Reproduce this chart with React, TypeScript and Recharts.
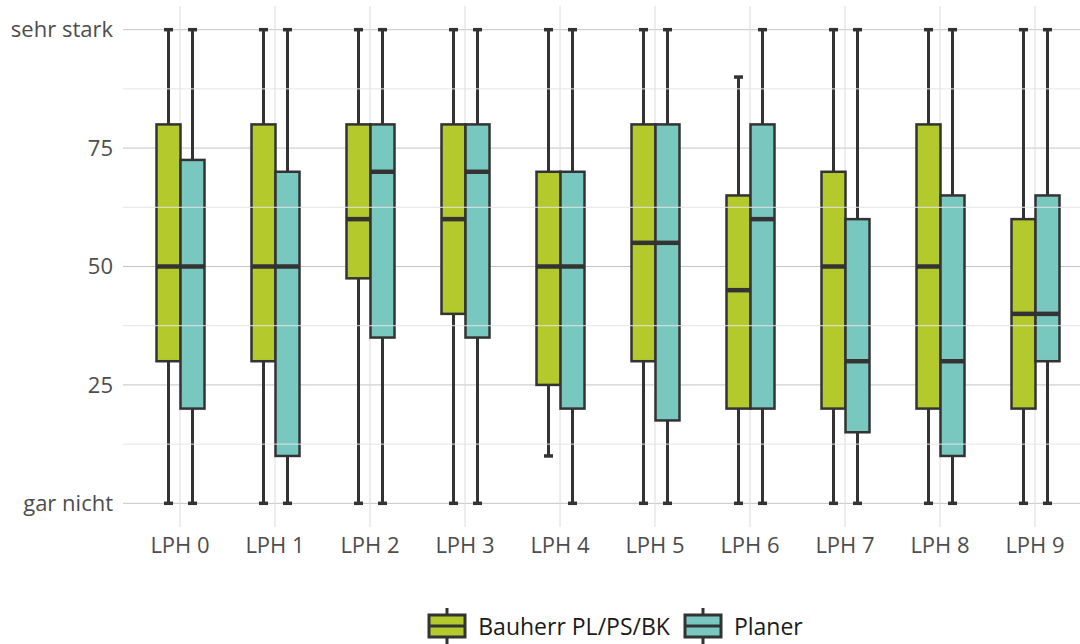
import React from 'react';
import {
  ComposedChart,
  Bar,
  XAxis,
  YAxis,
  CartesianGrid,
  ReferenceLine,
  Legend,
} from 'recharts';

const categories = ['LPH 0', 'LPH 1', 'LPH 2', 'LPH 3', 'LPH 4', 'LPH 5', 'LPH 6', 'LPH 7', 'LPH 8', 'LPH 9'];

const bauherrMin = [0, 0, 0, 0, 10, 0, 0, 0, 0, 0];
const bauherrQ1 = [30, 30, 47.5, 40, 25, 30, 20, 20, 20, 20];
const bauherrMed = [50, 50, 60, 60, 50, 55, 45, 50, 50, 40];
const bauherrQ3 = [80, 80, 80, 80, 70, 80, 65, 70, 80, 60];
const bauherrMax = [100, 100, 100, 100, 100, 100, 90, 100, 100, 100];

const planerMin = [0, 0, 0, 0, 0, 0, 0, 0, 0, 0];
const planerQ1 = [20, 10, 35, 35, 20, 17.5, 20, 15, 10, 30];
const planerMed = [50, 50, 70, 70, 50, 55, 60, 30, 30, 40];
const planerQ3 = [72.5, 70, 80, 80, 70, 80, 80, 60, 65, 65];
const planerMax = [100, 100, 100, 100, 100, 100, 100, 100, 100, 100];

const yTicks = [0, 25, 50, 75, 100];
const yMinor = [12.5, 37.5, 62.5, 87.5];
const yLabels: Record<number, string> = { 0: 'gar nicht', 100: 'sehr stark' };

const GREEN = '#b3c92c';
const TEAL = '#79c8c0';
const INK = '#333333';
const TEXT = '#4d4d4d';

const data = categories.map((name, i) => ({
  name,
  b: { min: bauherrMin[i], q1: bauherrQ1[i], med: bauherrMed[i], q3: bauherrQ3[i], max: bauherrMax[i] },
  p: { min: planerMin[i], q1: planerQ1[i], med: planerMed[i], q3: planerQ3[i], max: planerMax[i] },
}));

function makeBox(key: 'b' | 'p', fill: string) {
  return function BoxShape(props: any) {
    const { x, y, width, height, payload } = props;
    const s = payload[key];
    const top = Math.min(y, y + height);
    const h = Math.abs(height);
    const py = (v: number) => top + (h * (s.max - v)) / (s.max - s.min);
    const cx = x + width / 2;
    const capW = 9;
    return (
      <g>
        <line x1={cx} x2={cx} y1={py(s.max)} y2={py(s.q3)} stroke={INK} strokeWidth={3} />
        <line x1={cx} x2={cx} y1={py(s.q1)} y2={py(s.min)} stroke={INK} strokeWidth={3} />
        <line x1={cx - capW / 2} x2={cx + capW / 2} y1={py(s.max)} y2={py(s.max)} stroke={INK} strokeWidth={3.5} />
        <line x1={cx - capW / 2} x2={cx + capW / 2} y1={py(s.min)} y2={py(s.min)} stroke={INK} strokeWidth={3.5} />
        <rect x={x} y={py(s.q3)} width={width} height={py(s.q1) - py(s.q3)} fill={fill} stroke={INK} strokeWidth={2.5} />
        <line x1={x} x2={x + width} y1={py(s.med)} y2={py(s.med)} stroke={INK} strokeWidth={4.5} />
      </g>
    );
  };
}

function BoxIcon({ fill }: { fill: string }) {
  return (
    <svg width={40} height={36} style={{ display: 'block' }}>
      <line x1={20} x2={20} y1={0} y2={36} stroke={INK} strokeWidth={3} />
      <rect x={2} y={7} width={36} height={22} fill={fill} stroke={INK} strokeWidth={3} />
      <line x1={2} x2={38} y1={18} y2={18} stroke={INK} strokeWidth={3} />
    </svg>
  );
}

function LegendContent() {
  const items = [
    { label: 'Bauherr PL/PS/BK', fill: GREEN },
    { label: 'Planer', fill: TEAL },
  ];
  return (
    <div style={{ display: 'flex', justifyContent: 'center', alignItems: 'center', gap: 13, paddingLeft: 150 }}>
      {items.map((it) => (
        <div key={it.label} style={{ display: 'flex', alignItems: 'center', gap: 11 }}>
          <BoxIcon fill={it.fill} />
          <span style={{ fontSize: 23, color: '#1a1a1a' }}>{it.label}</span>
        </div>
      ))}
    </div>
  );
}

export default function App() {
  return (
    <div style={{ position: 'absolute', left: 0, top: 0, fontFamily: '"Open Sans", sans-serif', background: '#fff' }}>
      <ComposedChart
        width={1080}
        height={644}
        data={data}
        barGap={0}
        margin={{ top: 6, right: -12, left: 0, bottom: 53 }}
      >
        <CartesianGrid vertical={false} syncWithTicks horizontalValues={yTicks} stroke="#c4c4c4" strokeWidth={1} />
        <CartesianGrid horizontal={false} syncWithTicks stroke="#dcdcdc" strokeWidth={1} />
        {yMinor.map((v) => (
          <ReferenceLine key={v} y={v} stroke="#e4e4e4" strokeWidth={1} />
        ))}
        <XAxis
          dataKey="name"
          axisLine={false}
          tickLine={false}
          height={30}
          tickMargin={4}
          padding={{ left: 9.5, right: 9.5 }}
          tick={{ fontSize: 22, fill: TEXT }}
        />
        <YAxis
          type="number"
          domain={[-5, 105]}
          ticks={yTicks}
          width={123}
          axisLine={false}
          tickLine={false}
          tickMargin={4}
          tick={{ fontSize: 22, fill: TEXT }}
          tickFormatter={(v: number) => yLabels[v] ?? String(v)}
        />
        <Legend
          verticalAlign="bottom"
          height={34}
          content={<LegendContent />}
          wrapperStyle={{ top: 608, left: 0, width: 1080 }}
        />
        <Bar
          dataKey={(d: any) => [d.b.min, d.b.max]}
          name="Bauherr PL/PS/BK"
          barSize={24}
          fill={GREEN}
          shape={makeBox('b', GREEN)}
          isAnimationActive={false}
        />
        <Bar
          dataKey={(d: any) => [d.p.min, d.p.max]}
          name="Planer"
          barSize={24}
          fill={TEAL}
          shape={makeBox('p', TEAL)}
          isAnimationActive={false}
        />
      </ComposedChart>
    </div>
  );
}
